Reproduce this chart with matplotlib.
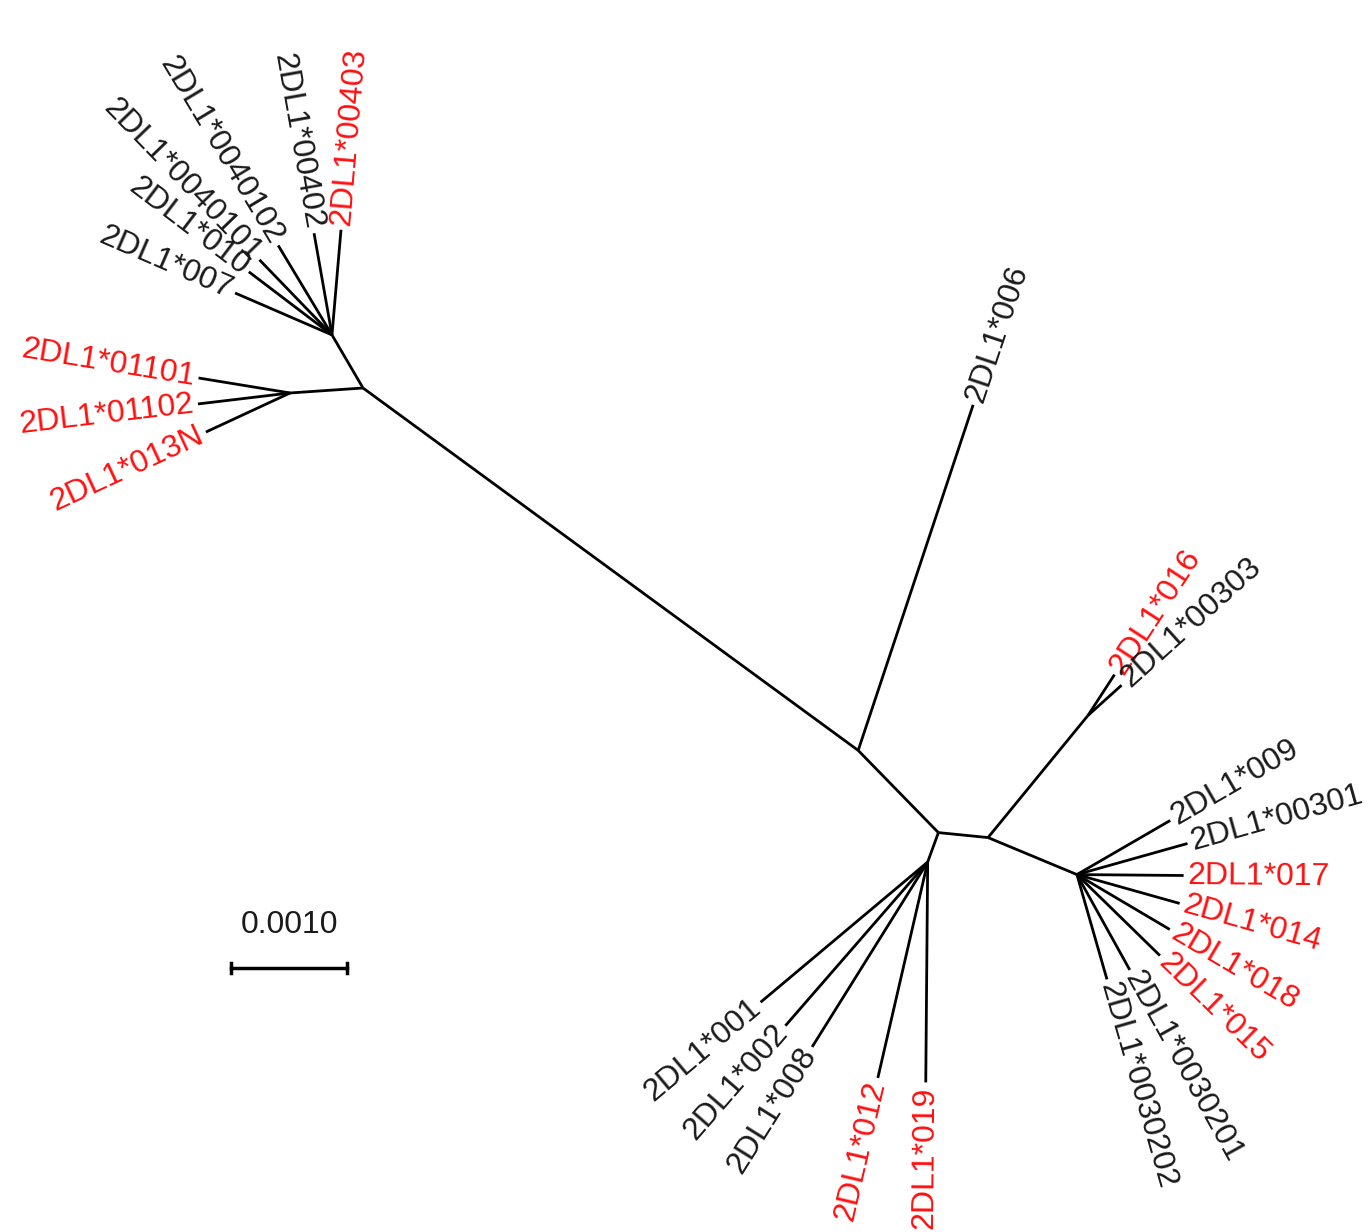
import numpy as np
import matplotlib
matplotlib.use("Agg")
import matplotlib.pyplot as plt

# Arvore nao enraizada: cada ramo = (pai, filho, comprimento em subst./sitio, angulo em graus)
pais = ["B", "B", "B", "D", "D", "E", "E", "H", "H",
        "A", "A", "A", "A", "A", "A",
        "C", "C", "C",
        "K", "K",
        "I", "I", "I", "I", "I", "I", "I", "I",
        "G", "G", "G", "G", "G"]
filhos = ["A", "C", "D", "2DL1*006", "E", "G", "H", "K", "I",
          "2DL1*007", "2DL1*010", "2DL1*0040101", "2DL1*0040102", "2DL1*00402", "2DL1*00403",
          "2DL1*01101", "2DL1*01102", "2DL1*013N",
          "2DL1*016", "2DL1*00303",
          "2DL1*009", "2DL1*00301", "2DL1*017", "2DL1*014", "2DL1*018", "2DL1*015",
          "2DL1*0030201", "2DL1*0030202",
          "2DL1*001", "2DL1*002", "2DL1*008", "2DL1*012", "2DL1*019"]
comprimentos = [0.00053, 0.00063, 0.00529, 0.00314, 0.00099, 0.00027, 0.00043, 0.00136, 0.00083,
                0.00091, 0.00090, 0.00090, 0.00090, 0.00089, 0.00091,
                0.00080, 0.00080, 0.00080,
                0.00042, 0.00039,
                0.00093, 0.00099, 0.00092, 0.00092, 0.00093, 0.00100, 0.00094, 0.00094,
                0.00188, 0.00187, 0.00188, 0.00191, 0.00190]
angulos = [120.3, 183.9, 323.8, 71.6, 314.3, 250.0, 354.3, 50.7, 337.4,
           156.6, 142.8, 134.0, 121.0, 100.0, 85.1,
           170.7, 186.8, 204.9,
           57.0, 42.0,
           30.1, 15.7, 359.5, 344.3, 329.4, 315.7, 299.0, 286.0,
           220.0, 229.0, 238.0, 257.0, 269.5]

# Alelos destacados em vermelho
destacados = ["2DL1*00403", "2DL1*01101", "2DL1*01102", "2DL1*013N", "2DL1*016",
              "2DL1*017", "2DL1*014", "2DL1*018", "2DL1*015", "2DL1*012", "2DL1*019"]

escala_valor = 0.0010
escala_texto = "0.0010"

# Calcular posicoes dos nos a partir da raiz B
pos = {"B": (0.0, 0.0)}
for p, f, c, a in zip(pais, filhos, comprimentos, angulos):
    x0, y0 = pos[p]
    r = np.deg2rad(a)
    pos[f] = (x0 + c * np.cos(r), y0 + c * np.sin(r))

# Figura em pixels: 1 px = 0.001/116
W, H = 1371, 1232
u = 0.001 / 116
rx, ry = 363, 388  # posicao da raiz na imagem

fig = plt.figure(figsize=(W / 100, H / 100), dpi=100)
ax = fig.add_axes([0, 0, 1, 1])
ax.set_xlim(-rx * u, (W - rx) * u)
ax.set_ylim(-(H - ry) * u, ry * u)
ax.axis("off")

fonte = "Liberation Sans"
tam = 23

for p, f, c, a in zip(pais, filhos, comprimentos, angulos):
    x0, y0 = pos[p]
    x1, y1 = pos[f]
    ax.plot([x0, x1], [y0, y1], color="black", lw=2, solid_capstyle="butt")
    if f.startswith("2DL1"):
        r = np.deg2rad(a)
        gap = 4 * u
        tx, ty = x1 + gap * np.cos(r), y1 + gap * np.sin(r)
        cor = "#ff1010" if f in destacados else "#1a1a1a"
        if np.cos(r) >= 0:
            rot = a if a <= 90 else a - 360
            ha = "left"
        else:
            rot = a - 180
            ha = "right"
        ax.text(tx, ty, f, rotation=rot, rotation_mode="anchor", ha=ha, va="center",
                color=cor, fontsize=tam, family=fonte)

# Barra de escala
bx0 = (231 - rx) * u
by = (ry - 968) * u
ax.plot([bx0, bx0 + escala_valor], [by, by], color="black", lw=2.5)
for xx in [bx0, bx0 + escala_valor]:
    ax.plot([xx, xx], [by - 5 * u, by + 5 * u], color="black", lw=2.5)
ax.text(bx0 + escala_valor / 2, by + 28 * u, escala_texto, ha="center", va="bottom",
        fontsize=tam, family=fonte, color="#1a1a1a")

plt.savefig("out.png", dpi=100)
